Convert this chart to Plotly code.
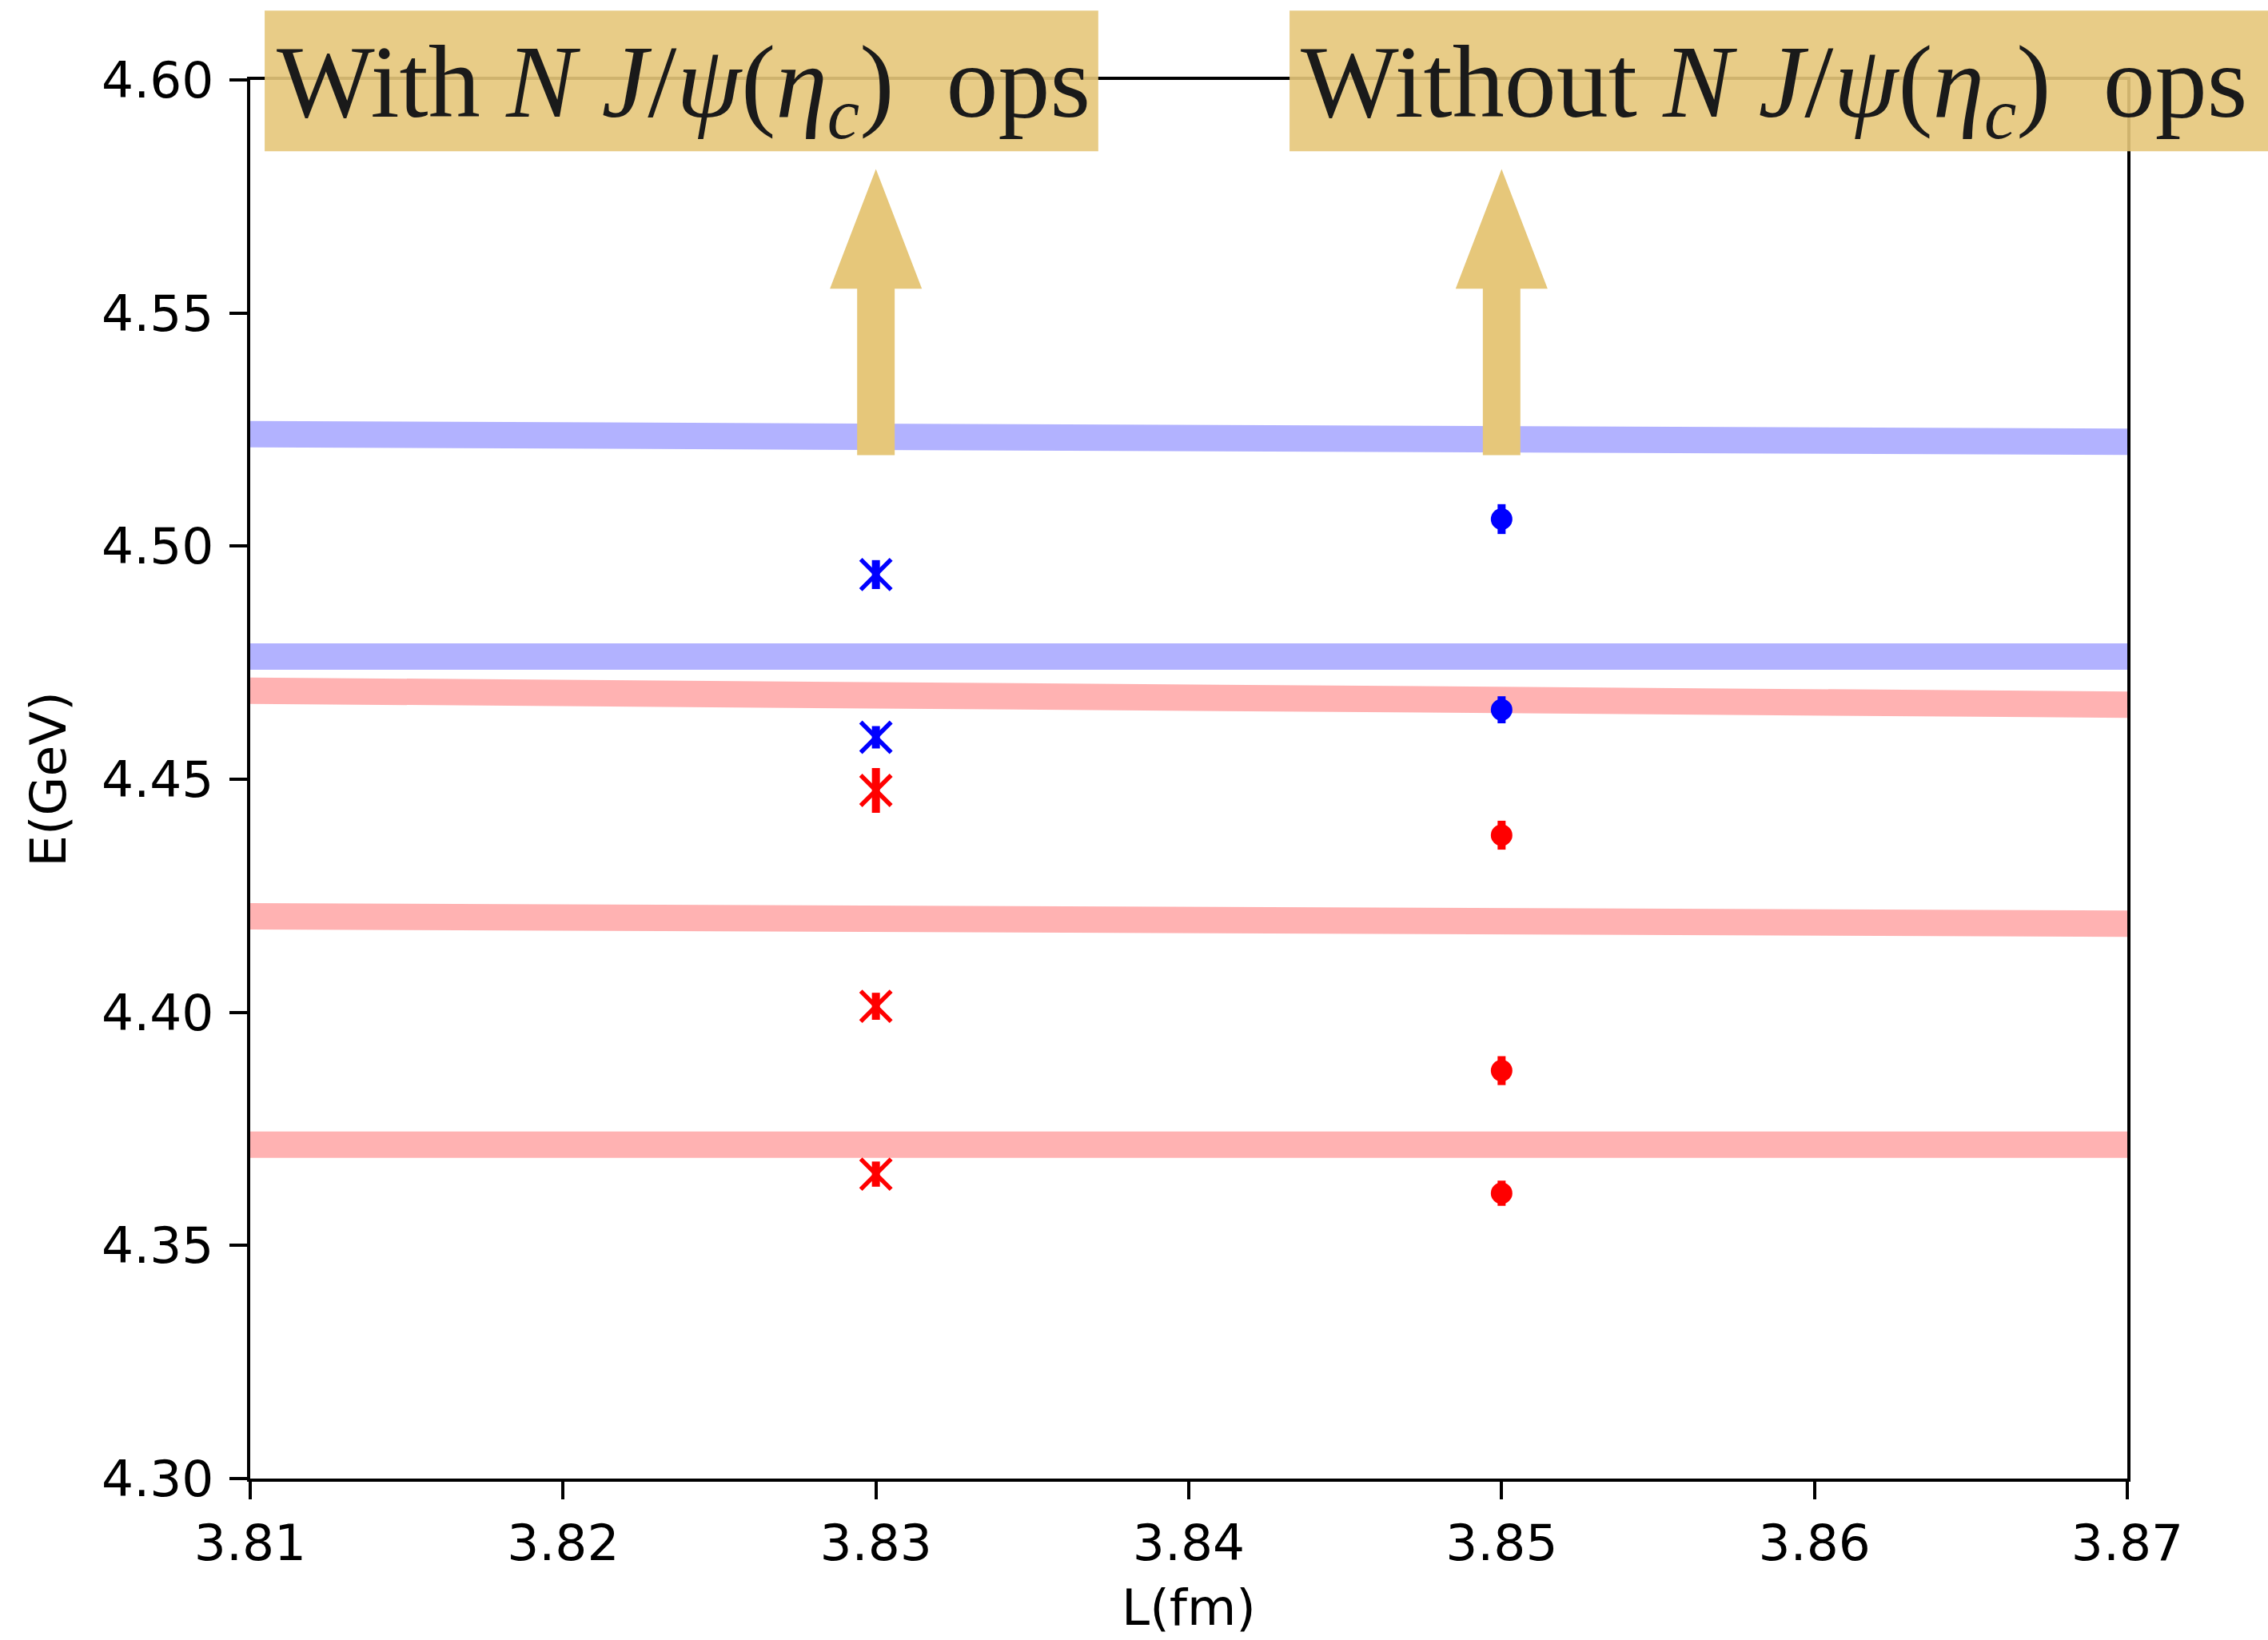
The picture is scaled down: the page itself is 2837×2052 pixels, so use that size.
import plotly.graph_objects as go

# ---- data -------------------------------------------------------------
# Non-interacting levels (bands), drawn across the full L window
band_L = [3.81, 3.87]
blue_bands = [[4.5240, 4.5224], [4.4763, 4.4763]]
red_bands = [[4.4690, 4.4660], [4.4206, 4.4190], [4.3716, 4.3716]]

# Spectrum with N J/psi(eta_c) operators
L_with = 3.83
with_blue = [4.4939, 4.4590]
with_blue_err = [0.0031, 0.0024]
with_red = [4.4476, 4.4013, 4.3653]
with_red_err = [0.0048, 0.0029, 0.0027]

# Spectrum without N J/psi(eta_c) operators
L_without = 3.85
without_blue = [4.5058, 4.4649]
without_blue_err = [0.0032, 0.0029]
without_red = [4.4380, 4.3875, 4.3612]
without_red_err = [0.0031, 0.0031, 0.0027]

x_ticks = [3.81, 3.82, 3.83, 3.84, 3.85, 3.86, 3.87]
y_ticks = [4.30, 4.35, 4.40, 4.45, 4.50, 4.55, 4.60]

# arrows pointing up to the two labels
arrow_x = [L_with, L_without]
arrow_tail = 4.5195
arrow_tip = 4.5809

labels = [
    "With <i>N J</i>/<i>ψ</i>(<i>η<sub>c</sub></i>)\u00a0\u00a0ops",
    "Without <i>N J</i>/<i>ψ</i>(<i>η<sub>c</sub></i>)\u00a0\u00a0ops",
]

# ---- styling ----------------------------------------------------------
BLUE = "rgb(0,0,255)"
RED = "rgb(255,0,0)"
BLUE_BAND = "rgba(0,0,255,0.3)"
RED_BAND = "rgba(255,0,0,0.3)"
GOLD = "rgb(230,199,122)"
GOLD_BOX = "rgba(230,199,122,0.9)"
TICK_FONT = dict(family="DejaVu Sans", size=63, color="black")

fig = go.Figure()

for ys in blue_bands:
    fig.add_trace(go.Scatter(x=band_L, y=ys, mode="lines",
                             line=dict(color=BLUE_BAND, width=33),
                             hoverinfo="skip", showlegend=False))
for ys in red_bands:
    fig.add_trace(go.Scatter(x=band_L, y=ys, mode="lines",
                             line=dict(color=RED_BAND, width=33),
                             hoverinfo="skip", showlegend=False))


def add_points(L, vals, errs, color, symbol):
    if symbol == "x-thin":
        marker = dict(symbol="x-thin", size=38, color=color,
                      line=dict(color=color, width=5.5))
    else:
        marker = dict(symbol="circle", size=27, color=color,
                      line=dict(width=0))
    fig.add_trace(go.Scatter(
        x=[L] * len(vals), y=vals, mode="markers", marker=marker,
        error_y=dict(type="data", array=errs, visible=True,
                     thickness=10, width=0, color=color),
        showlegend=False))


add_points(L_with, with_blue, with_blue_err, BLUE, "x-thin")
add_points(L_with, with_red, with_red_err, RED, "x-thin")
add_points(L_without, without_blue, without_blue_err, BLUE, "circle")
add_points(L_without, without_red, without_red_err, RED, "circle")

# block arrows in data coordinates
head_len = 0.0257
shaft_hw = 0.0006
head_hw = 0.00147
shapes = []
for ax in arrow_x:
    hb = arrow_tip - head_len
    path = (f"M{ax - shaft_hw},{arrow_tail} L{ax - shaft_hw},{hb} "
            f"L{ax - head_hw},{hb} L{ax},{arrow_tip} L{ax + head_hw},{hb} "
            f"L{ax + shaft_hw},{hb} L{ax + shaft_hw},{arrow_tail} Z")
    shapes.append(dict(type="path", path=path, xref="x", yref="y",
                       fillcolor=GOLD, line=dict(width=0), layer="above"))

# label boxes (paper coordinates, they overhang the top of the axes)
box_x = [(0.0077, 0.4518), (0.5537, 1.10)]
for x0, x1 in box_x:
    shapes.append(dict(type="rect", xref="paper", yref="paper",
                       x0=x0, x1=x1, y0=0.9490, y1=1.0496,
                       fillcolor=GOLD_BOX, line=dict(width=0), layer="above"))

annotations = []
text_x = [0.0133, 0.5587]
for tx, txt in zip(text_x, labels):
    annotations.append(dict(x=tx, y=0.9935, xref="paper", yref="paper",
                            xanchor="left", yanchor="middle", showarrow=False,
                            text=txt,
                            font=dict(family="Liberation Serif", size=130,
                                      color="#1a1a1a")))

fig.update_layout(
    width=2837, height=2052,
    margin=dict(l=313, r=176, t=100, b=202),
    paper_bgcolor="white", plot_bgcolor="white",
    shapes=shapes, annotations=annotations,
    showlegend=False,
)

fig.update_xaxes(
    range=[3.81, 3.87], tickvals=x_ticks,
    ticktext=[f"{v:.2f}" for v in x_ticks],
    showgrid=False, zeroline=False, automargin=False,
    showline=True, linecolor="black", linewidth=4, mirror=True,
    ticks="outside", ticklen=22, tickwidth=4, tickcolor="black",
    tickfont=TICK_FONT, ticklabelstandoff=0,
    title=dict(text="L(fm)", font=TICK_FONT, standoff=24),
)
fig.update_yaxes(
    range=[4.30, 4.60], tickvals=y_ticks,
    ticktext=[f"{v:.2f}" for v in y_ticks],
    showgrid=False, zeroline=False, automargin=False,
    showline=True, linecolor="black", linewidth=4, mirror=True,
    ticks="outside", ticklen=22, tickwidth=4, tickcolor="black",
    tickfont=TICK_FONT, ticklabelstandoff=7,
    title=dict(text="E(GeV)", font=TICK_FONT, standoff=25),
)

fig.write_html("out.html")
